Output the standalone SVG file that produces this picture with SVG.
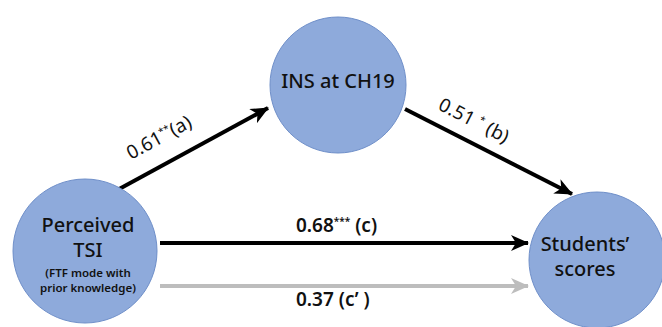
<svg xmlns="http://www.w3.org/2000/svg" width="662" height="327" viewBox="0 0 662 327">
<style>
.node{fill:#8eaadb;stroke:#6f8fc9;stroke-width:1}
.t{font-family:"Noto Sans","Open Sans",sans-serif;fill:#111;text-anchor:middle}
.big{font-size:20px;font-weight:500}
.small{font-size:11.5px;font-weight:600}
.lbl{font-family:"Noto Sans","Open Sans",sans-serif;fill:#111;font-size:19px}
.bold{font-weight:600}
.sup{font-size:10px}
.blk{stroke:#000;stroke-width:4;fill:none}
.gry{stroke:#bdbdbd;stroke-width:4;fill:none}
</style>
<defs>
<marker id="ah" markerUnits="userSpaceOnUse" markerWidth="20" markerHeight="18" refX="17" refY="8" orient="auto">
<path d="M0,0 L18,8 L0,16 L5,8 Z" fill="#000"/>
</marker>
<marker id="ahg" markerUnits="userSpaceOnUse" markerWidth="20" markerHeight="18" refX="17" refY="8" orient="auto">
<path d="M0,0 L18,8 L0,16 L5,8 Z" fill="#bdbdbd"/>
</marker>
</defs>
<rect width="662" height="327" fill="#fff"/>
<g id="connectors">
<line class="blk" x1="110" y1="194" x2="268" y2="108" marker-end="url(#ah)"/>
<line class="blk" x1="405" y1="109" x2="572" y2="194" marker-end="url(#ah)"/>
<line class="blk" x1="160" y1="243" x2="528" y2="243" marker-end="url(#ah)"/>
<line class="gry" x1="160" y1="286" x2="528" y2="286" marker-end="url(#ahg)"/>
<text class="lbl" transform="translate(131,160) rotate(-28.5)">0.61<tspan class="sup" dy="-7">**</tspan><tspan dy="7">(a)</tspan></text>
<text class="lbl" transform="translate(437,109) rotate(27)">0.51 <tspan class="sup" dy="-7">*</tspan><tspan dy="7"> (b)</tspan></text>
<text class="lbl bold" x="296" y="232">0.68<tspan class="sup" dy="-7">***</tspan><tspan dy="7"> (c)</tspan></text>
<text class="lbl bold" x="296" y="306">0.37 (c’ )</text>
</g>
<g id="node-tsi">
<circle class="node" cx="85" cy="251" r="72"/>
<text class="t big" x="88" y="232">Perceived</text>
<text class="t big" x="88" y="257">TSI</text>
<text class="t small" x="88" y="277">(FTF mode with</text>
<text class="t small" x="88" y="292">prior knowledge)</text>
</g>
<g id="node-ins">
<circle class="node" cx="338" cy="85" r="68"/>
<text class="t big" x="338" y="88">INS at CH19</text>
</g>
<g id="node-scores">
<circle class="node" cx="597" cy="260" r="68"/>
<text class="t big" x="585" y="251">Students’</text>
<text class="t big" x="585" y="276">scores</text>
</g>
</svg>
